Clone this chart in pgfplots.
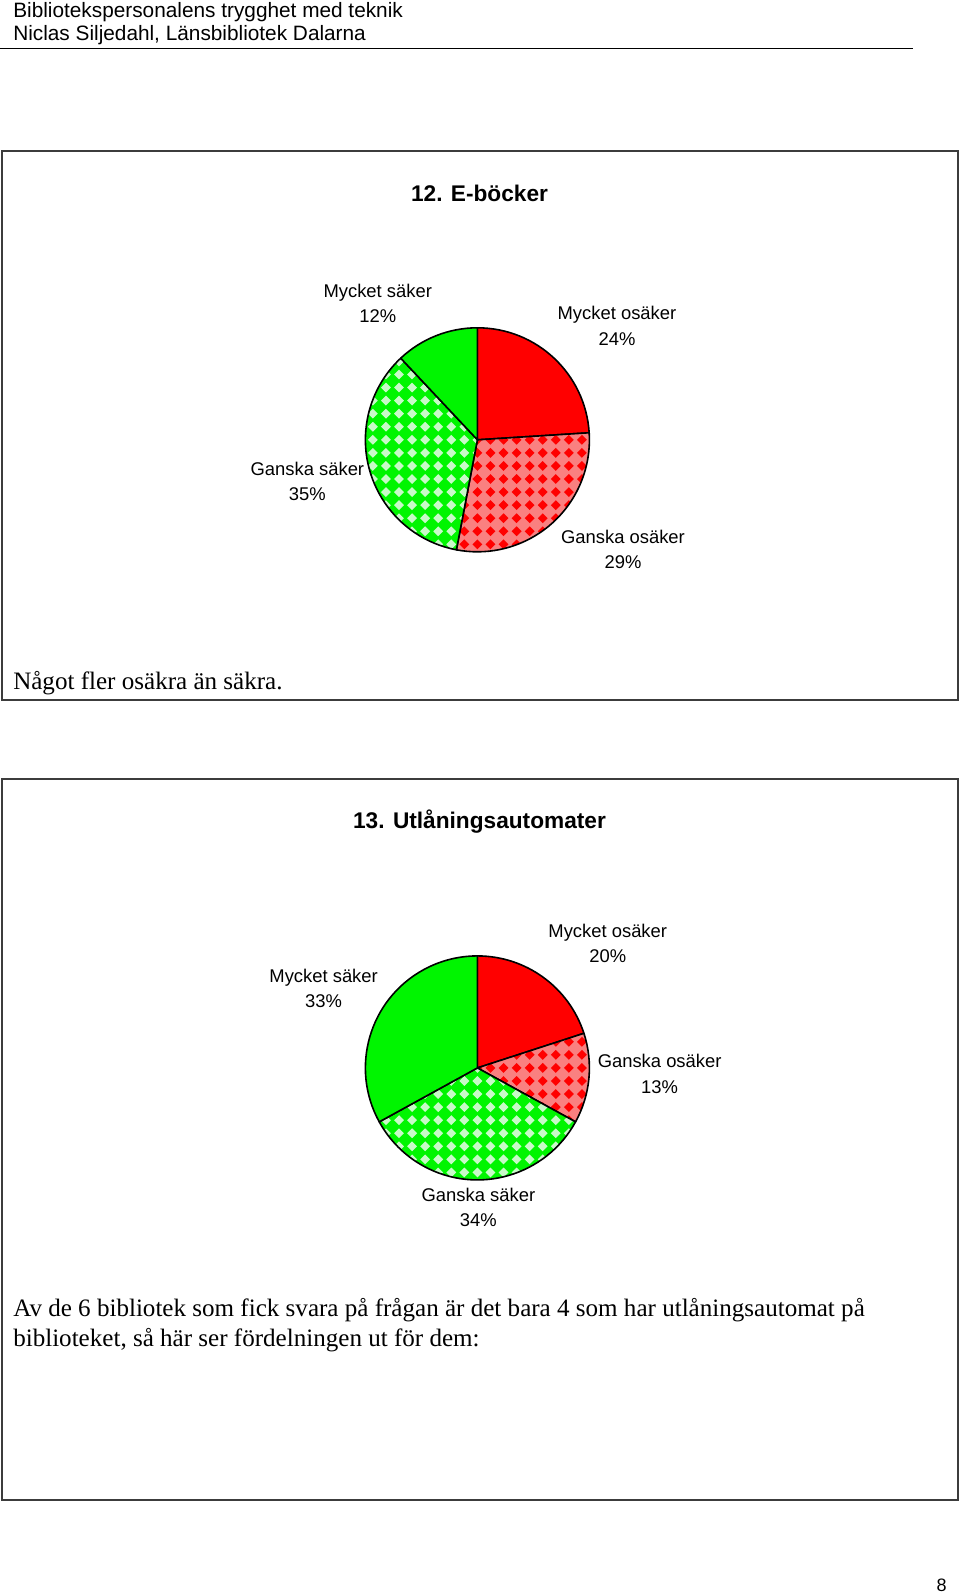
\documentclass[border=0pt]{standalone}
\usepackage{fontspec}
\setmainfont{Liberation Serif}
\setsansfont{Liberation Sans}
\usepackage{pgfplots}
\usepackage{pgfplotstable}
\pgfplotsset{compat=1.18}

\definecolor{pieRed}{RGB}{255,0,0}
\definecolor{pieRedLight}{RGB}{250,128,128}
\definecolor{pieGreen}{RGB}{0,245,0}
\definecolor{pieGreenLight}{RGB}{200,250,200}
\definecolor{frame}{RGB}{60,60,60}

% share in percent, slice kind (0 red, 1 red checks, 2 green checks, 3 green),
% label position in pie radii
\pgfplotstableread[col sep=comma]{
pct,kind,lx,ly,name
24,0,1.246,1.018,Mycket osäker
29,1,1.300,-0.981,Ganska osäker
35,2,-1.518,-0.372,Ganska säker
12,3,-0.890,1.218,Mycket säker
}\ebocker

\pgfplotstableread[col sep=comma]{
pct,kind,lx,ly,name
20,0,1.164,1.109,Mycket osäker
13,1,1.627,-0.055,Ganska osäker
34,2,0.009,-1.245,Ganska säker
33,3,-1.373,0.709,Mycket säker
}\automater

\newcommand\R{84pt}
\newcommand\dgap{9.8pt}
\newcommand\dd{3.7pt}
\newcommand\labelfont{\sffamily\fontsize{13.8pt}{19pt}\selectfont}
\newcommand\headfont{\sffamily\fontsize{15.6pt}{17pt}\selectfont}
\newcommand\titlefont{\sffamily\bfseries\fontsize{17pt}{20pt}\selectfont}
\newcommand\bodyfont{\rmfamily\fontsize{18.8pt}{22pt}\selectfont}

\pgfplotsset{pie axis/.style={hide axis, scale only axis, width=168pt, height=168pt,
  xmin=-1, xmax=1, ymin=-1, ymax=1, clip=false}}

\newcommand\checks[2]{%
  \fill[#1] (axis cs:-1.1,-1.1) rectangle (axis cs:1.1,1.1);
  \foreach \ii in {-9,...,9}{
    \foreach \jj in {-9,...,9}{
      \fill[#2] (axis cs:0,0) ++(\ii*\dgap,\jj*\dgap+\dd) -- ++(\dd,-\dd) -- ++(-\dd,-\dd) -- ++(-\dd,\dd) -- cycle;
    }
  }
}

\newcommand\drawpie[1]{%
  \pgfplotstablegetrowsof{#1}%
  \pgfmathtruncatemacro\lastrow{\pgfplotsretval-1}%
  \gdef\cum{0}%
  \foreach \rr in {0,...,\lastrow}{%
    \pgfplotstablegetelem{\rr}{pct}\of#1\let\pctv\pgfplotsretval
    \pgfplotstablegetelem{\rr}{kind}\of#1\let\kindv\pgfplotsretval
    \pgfplotstablegetelem{\rr}{lx}\of#1\let\lxv\pgfplotsretval
    \pgfplotstablegetelem{\rr}{ly}\of#1\let\lyv\pgfplotsretval
    \pgfplotstablegetelem{\rr}{name}\of#1\let\namev\pgfplotsretval
    \pgfmathsetmacro\aS{90-3.6*\cum}%
    \pgfmathsetmacro\aE{90-3.6*(\cum+\pctv)}%
    \pgfmathsetmacro\cumnext{\cum+\pctv}\xdef\cum{\cumnext}%
    \def\slice{(axis cs:0,0) -- ++(\aS:\R) arc[start angle=\aS, end angle=\aE, radius=\R] -- cycle}%
    \ifcase\kindv\relax
      \fill[pieRed] \slice;
    \or
      \begin{scope}\clip \slice; \checks{pieRedLight}{pieRed}\end{scope}
    \or
      \begin{scope}\clip \slice; \checks{pieGreen}{pieGreenLight}\end{scope}
    \or
      \fill[pieGreen] \slice;
    \fi
    \draw[line width=1.2pt, line join=round] \slice;
    \node[align=center, font=\labelfont] at (axis cs:\lxv,\lyv) {\namev\\\pctv\%};
  }%
}

\begin{document}
\begin{tikzpicture}[x=0.75pt,y=-0.75pt]
\path[use as bounding box] (0,0) rectangle (960,1596);
\fill[white] (0,0) rectangle (960,1596);

% page header
\node[anchor=base west, inner sep=0, font=\headfont] at (13,17) {Bibliotekspersonalens trygghet med teknik};
\node[anchor=base west, inner sep=0, font=\headfont] at (13,40) {Niclas Siljedahl, Länsbibliotek Dalarna};
\draw[line width=0.8pt] (0,48.5) -- (913,48.5);

% frames
\draw[frame, line width=1.5pt] (2,150.7) rectangle (958,700);
\draw[frame, line width=1.5pt] (2,778.8) rectangle (958,1499.5);

\node[font=\titlefont] at (479.5,193.4) {12. E-böcker};
\node[font=\titlefont] at (479.5,821.5) {13. Utlåningsautomater};

\coordinate (c1) at (477.4,439.8);
\coordinate (c2) at (477.4,1067.9);

\begin{axis}[at={(c1)}, anchor=center, pie axis]
\pgfplotsextra{\drawpie\ebocker}
\end{axis}

\begin{axis}[at={(c2)}, anchor=center, pie axis]
\pgfplotsextra{\drawpie\automater}
\end{axis}

\node[anchor=base west, inner sep=0, font=\bodyfont] at (13,689) {Något fler osäkra än säkra.};
\node[anchor=base west, inner sep=0, font=\bodyfont] at (13,1316) {Av de 6 bibliotek som fick svara på frågan är det bara 4 som har utlåningsautomat på};
\node[anchor=base west, inner sep=0, font=\bodyfont] at (13,1346) {biblioteket, så här ser fördelningen ut för dem:};

\node[font=\sffamily\fontsize{13.5pt}{16pt}\selectfont] at (941.6,1585) {8};
\end{tikzpicture}
\end{document}
